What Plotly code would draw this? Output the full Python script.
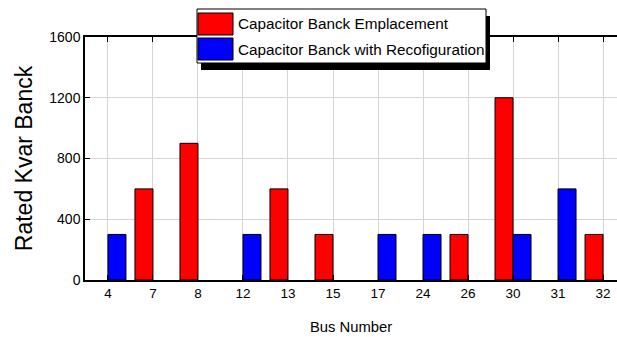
import plotly.graph_objects as go

# Bus numbers and rated capacitor bank sizes (kvar)
buses = ["4", "7", "8", "12", "13", "15", "17", "24", "26", "30", "31", "32"]
emplacement_kvar = [None, 600, 900, None, 600, 300, None, None, 300, 1200, None, 300]
reconfig_kvar = [300, None, None, 300, None, None, 300, 300, None, 300, 600, None]

series_names = ["Capacitor Banck Emplacement", "Capacitor Banck with Recofiguration"]
series_colors = ["#ff0000", "#0000ff"]

y_ticks = [0, 400, 800, 1200, 1600]

FONT = "Liberation Sans, Arial, sans-serif"

W, H = 617, 337
ML, MR, MT, MB = 85, 0, 37, 57
PW, PH = W - ML - MR, H - MT - MB


def xp(px):
    # pixel column -> paper x
    return (px - ML) / PW


def yp(py):
    # pixel row -> paper y
    return (H - MB - py) / PH


fig = go.Figure()
for name, vals, col in zip(series_names, [emplacement_kvar, reconfig_kvar], series_colors):
    fig.add_trace(go.Bar(
        x=buses, y=vals, name=name,
        marker=dict(color=col, line=dict(color="#000000", width=1)),
        showlegend=False,
    ))

# Framed legend with a drop shadow
shapes = [
    dict(type="rect", xref="paper", yref="paper", x0=xp(201), x1=xp(490), y0=yp(70), y1=yp(16),
         fillcolor="#000000", line=dict(width=0), layer="above"),
    dict(type="rect", xref="paper", yref="paper", x0=xp(197), x1=xp(486), y0=yp(63), y1=yp(9),
         fillcolor="#ffffff", line=dict(color="#000000", width=1), layer="above"),
]
annotations = []
for i, (name, col) in enumerate(zip(series_names, series_colors)):
    top = 13 + i * 25
    shapes.append(dict(type="rect", xref="paper", yref="paper",
                       x0=xp(198), x1=xp(233), y0=yp(top + 22), y1=yp(top),
                       fillcolor=col, line=dict(color="#000000", width=1), layer="above"))
    annotations.append(dict(xref="paper", yref="paper", x=xp(236), y=yp(top + 11),
                            xanchor="left", yanchor="middle", text=name, showarrow=False,
                            font=dict(family=FONT, size=15.3, color="#000000")))

fig.update_layout(
    width=W, height=H,
    margin=dict(l=ML, r=MR, t=MT, b=MB, autoexpand=False),
    paper_bgcolor="#ffffff", plot_bgcolor="#ffffff",
    barmode="group", bargap=0.2, bargroupgap=0,
    shapes=shapes, annotations=annotations,
    showlegend=False,
)
fig.update_xaxes(
    type="category", range=[-0.51, 11.31],
    showline=True, linecolor="#000000", linewidth=2, mirror="ticks",
    ticks="inside", ticklen=5, tickcolor="#000000",
    showgrid=True, gridcolor="#d4d4d4", gridwidth=1,
    tickfont=dict(family=FONT, size=13.5, color="#000000"),
    title=dict(text="Bus Number", font=dict(family=FONT, size=14.8, color="#000000"), standoff=21),
)
fig.update_yaxes(
    range=[0, 1600], tickvals=y_ticks,
    showline=True, linecolor="#000000", linewidth=1.5, mirror=False,
    ticks="inside", ticklen=5, tickcolor="#000000",
    showgrid=True, gridcolor="#d4d4d4", gridwidth=1, zeroline=False,
    tickfont=dict(family=FONT, size=14, color="#000000"),
    title=dict(text="Rated Kvar Banck", font=dict(family=FONT, size=23, color="#000000"), standoff=10),
)

fig.write_html("out.html")
